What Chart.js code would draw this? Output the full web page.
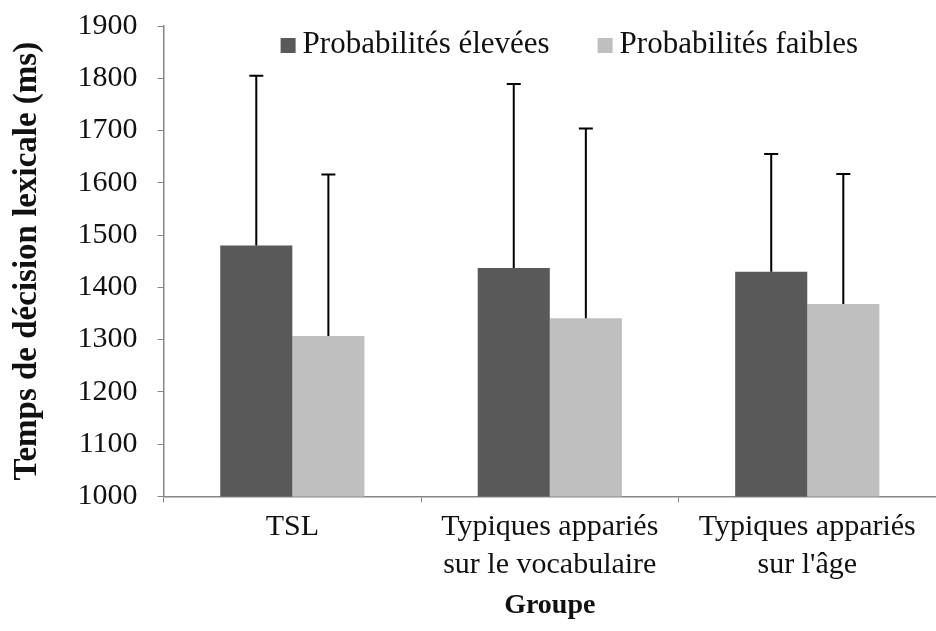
<!DOCTYPE html>
<html>
<head>
<meta charset="utf-8">
<script src="https://cdn.jsdelivr.net/npm/chart.js@4/dist/chart.umd.min.js"></script>
<style>
  html, body { margin: 0; padding: 0; background: #fff; }
  #wrap { width: 936px; height: 631px; }
</style>
</head>
<body>
<div id="wrap"><canvas id="barChart"></canvas></div>
<script>
// Data
const groups = ["TSL", ["Typiques appariés", "sur le vocabulaire"], ["Typiques appariés", "sur l'âge"]];
const seriesNames = ["Probabilités élevées", "Probabilités faibles"];
const eleveesMeans = [1480, 1437, 1430];
const faiblesMeans = [1307, 1341, 1368];
const eleveesErr = [325, 352, 225];
const faiblesErr = [309, 363, 249];
const yTicks = [1000, 1100, 1200, 1300, 1400, 1500, 1600, 1700, 1800, 1900];

const SERIF = "'Liberation Serif', 'Times New Roman', serif";
Chart.defaults.font.family = SERIF;
Chart.defaults.font.size = 30;
Chart.defaults.color = "#111";

// upward-only error bars with caps
const errorBars = {
  id: "errorBars",
  afterDatasetsDraw(chart) {
    const ctx = chart.ctx;
    const y = chart.scales.y;
    ctx.save();
    ctx.strokeStyle = "#000";
    ctx.lineWidth = 2;
    chart.data.datasets.forEach((ds, i) => {
      const meta = chart.getDatasetMeta(i);
      meta.data.forEach((bar, j) => {
        const top = y.getPixelForValue(ds.data[j] + ds.errors[j]);
        ctx.beginPath();
        ctx.moveTo(bar.x, bar.y);
        ctx.lineTo(bar.x, top);
        ctx.moveTo(bar.x - 7, top);
        ctx.lineTo(bar.x + 7, top);
        ctx.stroke();
      });
    });
    ctx.restore();
  }
};

// legend drawn inside the plot area, like the original
const innerLegend = {
  id: "innerLegend",
  afterDraw(chart) {
    const ctx = chart.ctx;
    const area = chart.chartArea;
    const starts = [area.left + 117, area.left + 434];
    const cy = area.top + 19;
    ctx.save();
    ctx.font = "31px " + SERIF;
    ctx.textBaseline = "middle";
    chart.data.datasets.forEach((ds, i) => {
      ctx.fillStyle = ds.backgroundColor;
      ctx.fillRect(starts[i], cy - 7, 15, 15);
      ctx.fillStyle = "#111";
      ctx.fillText(ds.label, starts[i] + 22, cy);
    });
    ctx.restore();
  }
};

new Chart(document.getElementById("barChart"), {
  type: "bar",
  data: {
    labels: groups,
    datasets: [
      { label: seriesNames[0], data: eleveesMeans, errors: eleveesErr, backgroundColor: "#595959" },
      { label: seriesNames[1], data: faiblesMeans, errors: faiblesErr, backgroundColor: "#bfbfbf" }
    ]
  },
  options: {
    responsive: true,
    maintainAspectRatio: false,
    animation: false,
    categoryPercentage: 0.56,
    barPercentage: 1.0,
    layout: { padding: { top: 0, right: 0, left: 8, bottom: 4 } },
    plugins: {
      legend: { display: false },
      tooltip: { enabled: false }
    },
    scales: {
      x: {
        grid: { drawOnChartArea: false, drawTicks: true, tickLength: 6, color: "#868686" },
        border: { color: "#868686", width: 1.5 },
        ticks: { padding: 6, maxRotation: 0, autoSkip: false, font: { size: 30, lineHeight: 1.25 } },
        title: { display: true, text: "Groupe", font: { size: 28, weight: "bold" }, padding: { top: 0 } }
      },
      y: {
        min: 1000,
        max: 1900,
        afterBuildTicks(scale) { scale.ticks = yTicks.map(v => ({ value: v })); },
        afterFit(scale) { scale.paddingTop = 26; },
        grid: { drawOnChartArea: false, drawTicks: true, tickLength: 6, color: "#868686" },
        border: { color: "#868686", width: 1.5 },
        ticks: { padding: 20, callback: v => String(v) },
        title: { display: true, text: "Temps de décision lexicale (ms)", font: { size: 33, weight: "bold" }, padding: { top: 0, bottom: 10 } }
      }
    }
  },
  plugins: [errorBars, innerLegend]
});
</script>
</body>
</html>
